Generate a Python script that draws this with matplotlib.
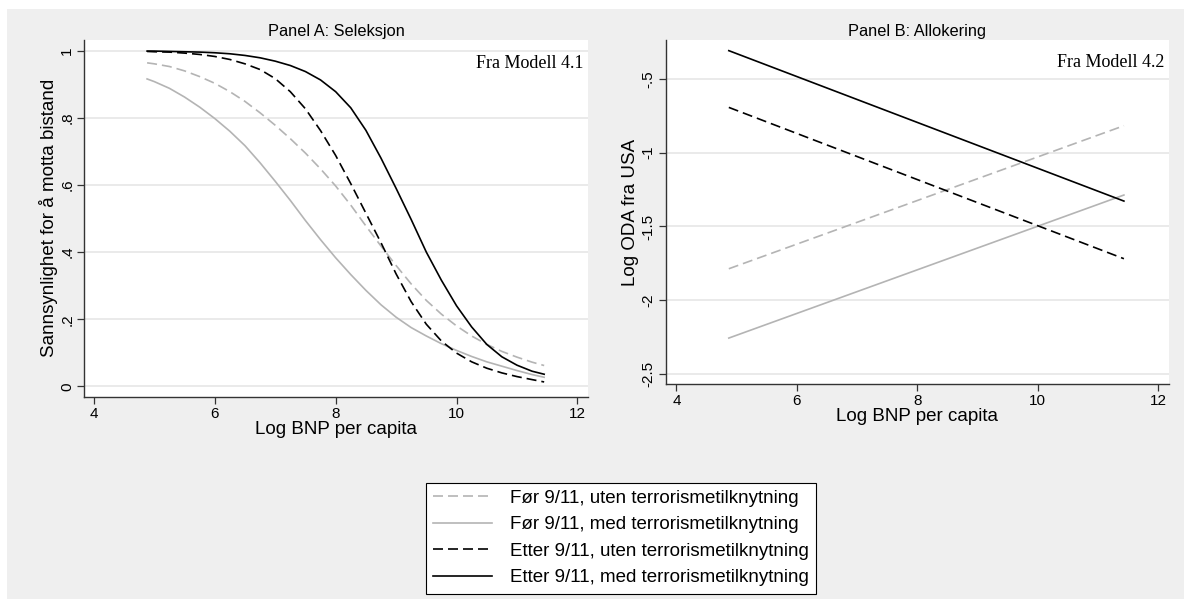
import numpy as np
import matplotlib.pyplot as plt
from matplotlib.patches import Rectangle

plt.rcParams['font.family'] = ['Liberation Sans', 'DejaVu Sans']

# Panel A: predicted probability of receiving aid
gdp_a = [4.88, 5.0, 5.25, 5.5, 5.75, 6.0, 6.25, 6.5, 6.75, 7.0, 7.25, 7.5, 7.75, 8.0,
         8.25, 8.5, 8.75, 9.0, 9.25, 9.5, 9.75, 10.0, 10.25, 10.5, 10.75, 11.0, 11.25, 11.45]
pre_no_terror_a = [0.964, 0.961, 0.953, 0.94, 0.923, 0.903, 0.878, 0.849, 0.815, 0.778, 0.738,
                   0.695, 0.648, 0.597, 0.54, 0.478, 0.418, 0.36, 0.305, 0.256, 0.215, 0.18,
                   0.15, 0.125, 0.104, 0.087, 0.072, 0.062]
pre_terror_a = [0.916, 0.908, 0.888, 0.862, 0.832, 0.798, 0.76, 0.717, 0.666, 0.611, 0.554,
                0.494, 0.437, 0.383, 0.333, 0.286, 0.243, 0.206, 0.175, 0.15, 0.127, 0.107,
                0.089, 0.073, 0.06, 0.047, 0.035, 0.027]
post_no_terror_a = [0.998, 0.997, 0.996, 0.993, 0.989, 0.983, 0.974, 0.961, 0.944, 0.917,
                    0.878, 0.827, 0.762, 0.688, 0.604, 0.516, 0.428, 0.335, 0.252, 0.185,
                    0.135, 0.099, 0.073, 0.054, 0.04, 0.029, 0.02, 0.013]
post_terror_a = [0.999, 0.999, 0.998, 0.997, 0.996, 0.994, 0.991, 0.986, 0.979, 0.969, 0.956,
                 0.938, 0.913, 0.878, 0.83, 0.763, 0.68, 0.59, 0.497, 0.40, 0.316, 0.24,
                 0.177, 0.125, 0.088, 0.063, 0.045, 0.036]

# Panel B: predicted log ODA from the US (straight lines)
gdp_b = [4.87, 11.43]
pre_no_terror_b = [-1.786, -0.818]
pre_terror_b = [-2.255, -1.287]
post_no_terror_b = [-0.694, -1.718]
post_terror_b = [-0.31, -1.328]

labels = ["Før 9/11, uten terrorismetilknytning",
          "Før 9/11, med terrorismetilknytning",
          "Etter 9/11, uten terrorismetilknytning",
          "Etter 9/11, med terrorismetilknytning"]

yticks_a = [0, 0.2, 0.4, 0.6, 0.8, 1]
yticklabels_a = ["0", ".2", ".4", ".6", ".8", "1"]
yticks_b = [-2.5, -2, -1.5, -1, -0.5]
yticklabels_b = ["-2.5", "-2", "-1.5", "-1", "-.5"]
xticks = [4, 6, 8, 10, 12]

gray = '#b4b4b4'
styles = [(gray, True), (gray, False), ('black', True), ('black', False)]

fig = plt.figure(figsize=(11.84, 5.99), dpi=100)
fig.patch.set_facecolor('white')
fig.add_artist(Rectangle((7 / 1184, 0), 1, 1 - 9 / 599, transform=fig.transFigure,
                         facecolor='#efefef', edgecolor='none', zorder=-10))

ax_a = fig.add_axes([0.0713, 0.3377, 0.4253, 0.5955])
ax_b = fig.add_axes([0.5625, 0.3589, 0.4247, 0.5743])


def draw_lines(ax, x, series):
    handles = []
    for y, (col, dashed) in zip(series, styles):
        line, = ax.plot(x, y, color=col, lw=1.2)
        if dashed:
            line.set_dashes([6, 3])
        handles.append(line)
    return handles


handles = draw_lines(ax_a, gdp_a, [pre_no_terror_a, pre_terror_a, post_no_terror_a, post_terror_a])
draw_lines(ax_b, gdp_b, [pre_no_terror_b, pre_terror_b, post_no_terror_b, post_terror_b])


def style_axes(ax, yticks, yticklabels, title, ylabel, note):
    ax.set_facecolor('white')
    for s in ['top', 'right']:
        ax.spines[s].set_visible(False)
    for s in ['left', 'bottom']:
        ax.spines[s].set_color('#333333')
        ax.spines[s].set_linewidth(1.0)
    ax.set_xticks(xticks)
    ax.set_yticks(yticks)
    ax.set_yticklabels(yticklabels, rotation=90, va='center')
    ax.tick_params(direction='out', length=4.8, width=0.9, color='#333333',
                   labelsize=11, pad=2.5)
    ax.yaxis.grid(True, color='#e6e6e6', lw=1.2)
    ax.set_axisbelow(True)
    ax.set_title(title, fontsize=11.8, pad=3)
    ax.set_xlabel('Log BNP per capita', fontsize=13.5, labelpad=0)
    ax.set_ylabel(ylabel, fontsize=13.5, labelpad=2)
    ax.text(0.991, 0.934, note, transform=ax.transAxes, ha='right', va='center',
            fontsize=13, family='Liberation Serif')


style_axes(ax_a, yticks_a, yticklabels_a, 'Panel A: Seleksjon',
           'Sannsynlighet for å motta bistand', 'Fra Modell 4.1')
ax_a.set_xlim(3.843, 12.175)
ax_a.set_ylim(-0.031, 1.032)

style_axes(ax_b, yticks_b, yticklabels_b, 'Panel B: Allokering',
           'Log ODA fra USA', 'Fra Modell 4.2')
ax_b.set_xlim(3.827, 12.176)
ax_b.set_ylim(-2.566, -0.238)

leg = fig.legend(handles, labels, loc='upper center', bbox_to_anchor=(0.5242, 0.1942),
                 frameon=True, fancybox=False, edgecolor='black', facecolor='white',
                 framealpha=1, fontsize=13.5, handlelength=3.15, handletextpad=0.96,
                 labelspacing=0.5, borderpad=0.38, borderaxespad=0)
leg.get_frame().set_linewidth(0.8)

fig.savefig('out.png', dpi=100)
